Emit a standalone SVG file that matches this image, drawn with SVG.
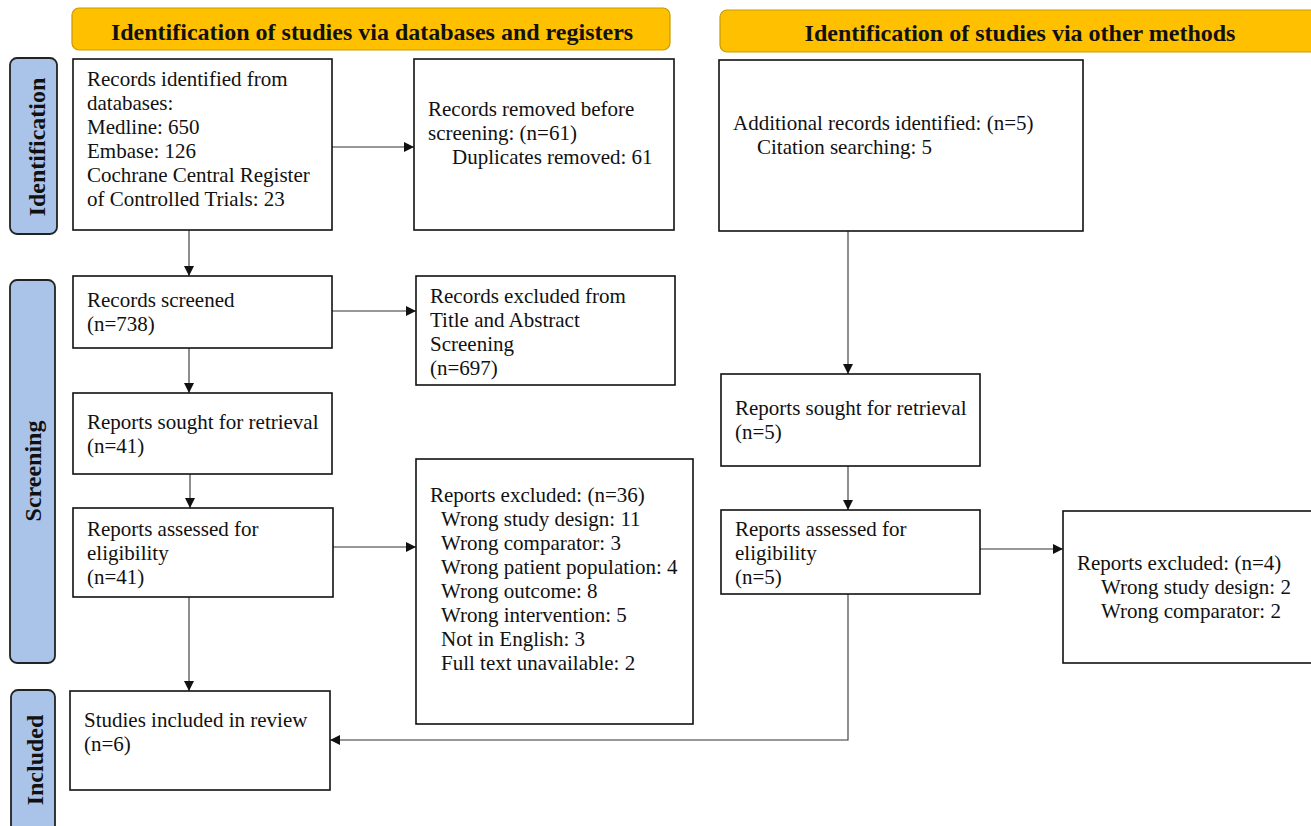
<svg xmlns="http://www.w3.org/2000/svg" width="1311" height="826" viewBox="0 0 1311 826">
<style>
.hdr{fill:#FFC000;stroke:#C89B00;stroke-width:1.2}
.side{fill:#A9C4E8;stroke:#222;stroke-width:1.8}
.box{fill:#fff;stroke:#111;stroke-width:1.6}
.t{font-family:"Liberation Serif","Times New Roman",serif;font-size:21px;fill:#111}
.ht{font-family:"Liberation Serif","Times New Roman",serif;font-size:24px;font-weight:bold;fill:#111;text-anchor:middle}
.st{font-family:"Liberation Serif","Times New Roman",serif;font-size:24px;font-weight:bold;fill:#111;text-anchor:middle}
.c{fill:none;stroke:#333;stroke-width:1.1}
</style>
<defs>
<marker id="ah" viewBox="0 0 10 10" refX="10" refY="5" markerWidth="10" markerHeight="10" markerUnits="userSpaceOnUse" orient="auto">
<path d="M0,0 L10,5 L0,10 z" fill="#111"/>
</marker>
</defs>
<rect width="1311" height="826" fill="#fff"/>
<g id="header-databases"><rect class="hdr" x="72" y="8" width="598" height="42" rx="7"/><text class="ht" x="372" y="40">Identification of studies via databases and registers</text></g>
<g id="header-other"><rect class="hdr" x="720" y="10" width="600" height="42" rx="7"/><text class="ht" x="1020" y="41">Identification of studies via other methods</text></g>
<g id="side-identification"><rect class="side" x="10" y="58" width="47" height="176" rx="7"/><text class="st" transform="translate(45,147) rotate(-90)">Identification</text></g>
<g id="side-screening"><rect class="side" x="10" y="280" width="45" height="383" rx="7"/><text class="st" transform="translate(41,471) rotate(-90)">Screening</text></g>
<g id="side-included"><rect class="side" x="11" y="690" width="44" height="150" rx="7"/><text class="st" transform="translate(43,760) rotate(-90)">Included</text></g>
<g id="connectors">
<path class="c" d="M189,230 V276" marker-end="url(#ah)"/>
<path class="c" d="M332,147 H414" marker-end="url(#ah)"/>
<path class="c" d="M189,348 V393" marker-end="url(#ah)"/>
<path class="c" d="M332,311 H416" marker-end="url(#ah)"/>
<path class="c" d="M190,474 V508" marker-end="url(#ah)"/>
<path class="c" d="M333,547 H416" marker-end="url(#ah)"/>
<path class="c" d="M189,597 V691" marker-end="url(#ah)"/>
<path class="c" d="M848,231 V374" marker-end="url(#ah)"/>
<path class="c" d="M848,466 V510" marker-end="url(#ah)"/>
<path class="c" d="M980,549 H1063" marker-end="url(#ah)"/>
<path class="c" d="M848,594 V740 H330" marker-end="url(#ah)"/>
</g>
<g id="records-identified"><rect class="box" x="73" y="59" width="259" height="171"/>
<text class="t"><tspan x="87" y="86">Records identified from</tspan><tspan x="87" y="110">databases:</tspan><tspan x="87" y="134">Medline: 650</tspan><tspan x="87" y="158">Embase: 126</tspan><tspan x="87" y="182">Cochrane Central Register</tspan><tspan x="87" y="206">of Controlled Trials: 23</tspan></text></g>
<g id="records-removed"><rect class="box" x="414" y="59" width="260" height="171"/>
<text class="t"><tspan x="428" y="116">Records removed before</tspan><tspan x="428" y="140">screening: (n=61)</tspan><tspan x="452" y="164">Duplicates removed: 61</tspan></text></g>
<g id="additional-records"><rect class="box" x="719" y="60" width="364" height="171"/>
<text class="t"><tspan x="733" y="130">Additional records identified: (n=5)</tspan><tspan x="757" y="154">Citation searching: 5</tspan></text></g>
<g id="records-screened"><rect class="box" x="73" y="276" width="259" height="72"/>
<text class="t"><tspan x="87" y="307">Records screened</tspan><tspan x="87" y="331">(n=738)</tspan></text></g>
<g id="records-excluded"><rect class="box" x="416" y="276" width="259" height="109"/>
<text class="t"><tspan x="430" y="303">Records excluded from</tspan><tspan x="430" y="327">Title and Abstract</tspan><tspan x="430" y="351">Screening</tspan><tspan x="430" y="375">(n=697)</tspan></text></g>
<g id="reports-sought-left"><rect class="box" x="73" y="393" width="259" height="81"/>
<text class="t"><tspan x="87" y="429">Reports sought for retrieval</tspan><tspan x="87" y="453">(n=41)</tspan></text></g>
<g id="reports-sought-right"><rect class="box" x="721" y="374" width="259" height="92"/>
<text class="t"><tspan x="735" y="415">Reports sought for retrieval</tspan><tspan x="735" y="439">(n=5)</tspan></text></g>
<g id="reports-assessed-left"><rect class="box" x="73" y="508" width="260" height="89"/>
<text class="t"><tspan x="87" y="536">Reports assessed for</tspan><tspan x="87" y="560">eligibility</tspan><tspan x="87" y="584">(n=41)</tspan></text></g>
<g id="reports-excluded-left"><rect class="box" x="416" y="459" width="277" height="265"/>
<text class="t"><tspan x="430" y="502">Reports excluded: (n=36)</tspan><tspan x="441" y="526">Wrong study design: 11</tspan><tspan x="441" y="550">Wrong comparator: 3</tspan><tspan x="441" y="574">Wrong patient population: 4</tspan><tspan x="441" y="598">Wrong outcome: 8</tspan><tspan x="441" y="622">Wrong intervention: 5</tspan><tspan x="441" y="646">Not in English: 3</tspan><tspan x="441" y="670">Full text unavailable: 2</tspan></text></g>
<g id="reports-assessed-right"><rect class="box" x="721" y="510" width="259" height="84"/>
<text class="t"><tspan x="735" y="536">Reports assessed for</tspan><tspan x="735" y="560">eligibility</tspan><tspan x="735" y="584">(n=5)</tspan></text></g>
<g id="reports-excluded-right"><rect class="box" x="1063" y="511" width="260" height="152"/>
<text class="t"><tspan x="1077" y="570">Reports excluded: (n=4)</tspan><tspan x="1101" y="594">Wrong study design: 2</tspan><tspan x="1101" y="618">Wrong comparator: 2</tspan></text></g>
<g id="studies-included"><rect class="box" x="70" y="691" width="260" height="99"/>
<text class="t"><tspan x="84" y="727">Studies included in review</tspan><tspan x="84" y="751">(n=6)</tspan></text></g>
</svg>
